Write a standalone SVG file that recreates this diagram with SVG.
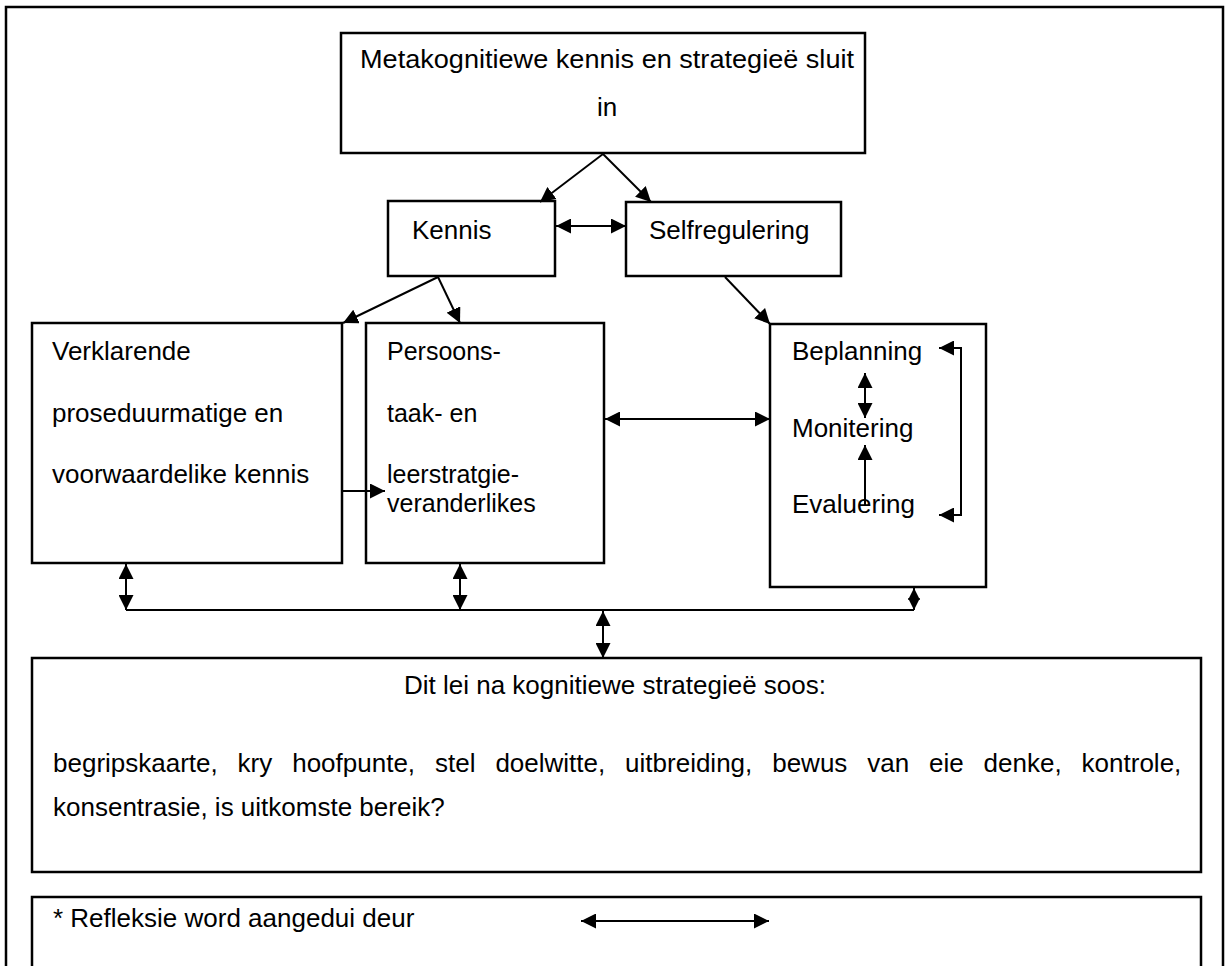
<svg xmlns="http://www.w3.org/2000/svg" width="1228" height="966" viewBox="0 0 1228 966">
  <style>
    .box { fill: #fff; stroke: #000; stroke-width: 2.5; }
    .frame { fill: none; stroke: #000; stroke-width: 2.5; }
    .t { font-family: "Liberation Sans", Arial, sans-serif; font-size: 26px; fill: #000; }
    .s { font-size: 25px; }
    .c { fill: none; stroke: #000; stroke-width: 2; }
  </style>
  <defs>
    <marker id="ah" markerUnits="userSpaceOnUse" markerWidth="15" markerHeight="15" refX="15" refY="7.5" orient="auto-start-reverse">
      <path d="M0,0 L15,7.5 L0,15 z" fill="#000"/>
    </marker>
    <marker id="ahs" markerUnits="userSpaceOnUse" markerWidth="12" markerHeight="12" refX="12" refY="6" orient="auto-start-reverse">
      <path d="M0,0 L12,6 L0,12 z" fill="#000"/>
    </marker>
  </defs>

  <rect width="1228" height="966" fill="#fff"/>

  <!-- outer frame, open at the bottom -->
  <path class="frame" d="M6,975 V7 H1223 V975"/>

  <g id="node-meta">
    <rect class="box" x="341" y="33" width="524" height="120"/>
    <text class="t" x="360" y="68" textLength="494" lengthAdjust="spacingAndGlyphs">Metakognitiewe kennis en strategieë sluit</text>
    <text class="t" x="607" y="116" text-anchor="middle">in</text>
  </g>

  <g id="node-kennis">
    <rect class="box" x="388" y="201" width="167" height="75"/>
    <text class="t" x="412" y="239">Kennis</text>
  </g>

  <g id="node-selfregulering">
    <rect class="box" x="626" y="202" width="215" height="74"/>
    <text class="t" x="649" y="239">Selfregulering</text>
  </g>

  <g id="node-verklarende">
    <rect class="box" x="32" y="323" width="310" height="240"/>
    <text class="t" x="52" y="360">Verklarende</text>
    <text class="t" x="52" y="422">proseduurmatige en</text>
    <text class="t" x="52" y="483">voorwaardelike kennis</text>
  </g>

  <g id="node-persoons">
    <rect class="box" x="366" y="323" width="238" height="240"/>
    <text class="t s" x="387" y="360">Persoons-</text>
    <text class="t s" x="387" y="422">taak- en</text>
    <text class="t s" x="387" y="483">leerstratgie-</text>
    <text class="t s" x="387" y="512">veranderlikes</text>
  </g>

  <g id="node-regulering">
    <rect class="box" x="770" y="324" width="216" height="263"/>
    <text class="t" x="792" y="360">Beplanning</text>
    <text class="t" x="792" y="437">Monitering</text>
    <text class="t" x="792" y="513">Evaluering</text>
  </g>

  <g id="node-strategiee">
    <rect class="box" x="32" y="658" width="1169" height="214"/>
    <text class="t" x="615" y="694" text-anchor="middle">Dit lei na kognitiewe strategieë soos:</text>
    <!-- justified line: words placed with even gaps -->
    <text class="t" y="772"><tspan x="53">begripskaarte,</tspan><tspan x="237.6">kry</tspan><tspan x="292.2">hoofpunte,</tspan><tspan x="435">stel</tspan><tspan x="495.4">doelwitte,</tspan><tspan x="625.1">uitbreiding,</tspan><tspan x="772.2">bewus</tspan><tspan x="867.2">van</tspan><tspan x="929">eie</tspan><tspan x="983.6">denke,</tspan><tspan x="1081.6">kontrole,</tspan></text>
    <text class="t" x="53" y="816">konsentrasie, is uitkomste bereik?</text>
  </g>

  <g id="node-legend">
    <path class="box" d="M32,975 V897 H1201 V975"/>
    <text class="t" x="53" y="927">* Refleksie word aangedui deur</text>
    <line class="c" x1="581" y1="921" x2="769" y2="921" marker-start="url(#ah)" marker-end="url(#ah)"/>
  </g>

  <g id="connectors">
    <line class="c" x1="603" y1="154" x2="540" y2="202" marker-end="url(#ah)"/>
    <line class="c" x1="603" y1="154" x2="651" y2="202" marker-end="url(#ah)"/>
    <line class="c" x1="556" y1="226" x2="626" y2="226" marker-start="url(#ah)" marker-end="url(#ah)"/>
    <line class="c" x1="438" y1="277" x2="343" y2="323" marker-end="url(#ah)"/>
    <line class="c" x1="438" y1="277" x2="460" y2="323" marker-end="url(#ah)"/>
    <line class="c" x1="725" y1="277" x2="770" y2="324" marker-end="url(#ah)"/>
    <line class="c" x1="342" y1="491" x2="385" y2="491" marker-end="url(#ah)"/>
    <line class="c" x1="605" y1="419" x2="770" y2="419" marker-start="url(#ah)" marker-end="url(#ah)"/>
    <line class="c" x1="865" y1="373" x2="865" y2="418" marker-start="url(#ah)" marker-end="url(#ah)"/>
    <line class="c" x1="865" y1="506" x2="865" y2="445" marker-end="url(#ah)"/>
    <path class="c" d="M939,348 H961 V515 H939" marker-start="url(#ah)" marker-end="url(#ah)"/>
    <line class="c" x1="126" y1="564" x2="126" y2="610" marker-start="url(#ah)" marker-end="url(#ah)"/>
    <line class="c" x1="460" y1="564" x2="460" y2="610" marker-start="url(#ah)" marker-end="url(#ah)"/>
    <line class="c" x1="914" y1="588" x2="914" y2="610" marker-start="url(#ahs)" marker-end="url(#ahs)"/>
    <line class="c" x1="126" y1="610" x2="914" y2="610"/>
    <line class="c" x1="603" y1="611" x2="603" y2="658" marker-start="url(#ah)" marker-end="url(#ah)"/>
  </g>
</svg>
